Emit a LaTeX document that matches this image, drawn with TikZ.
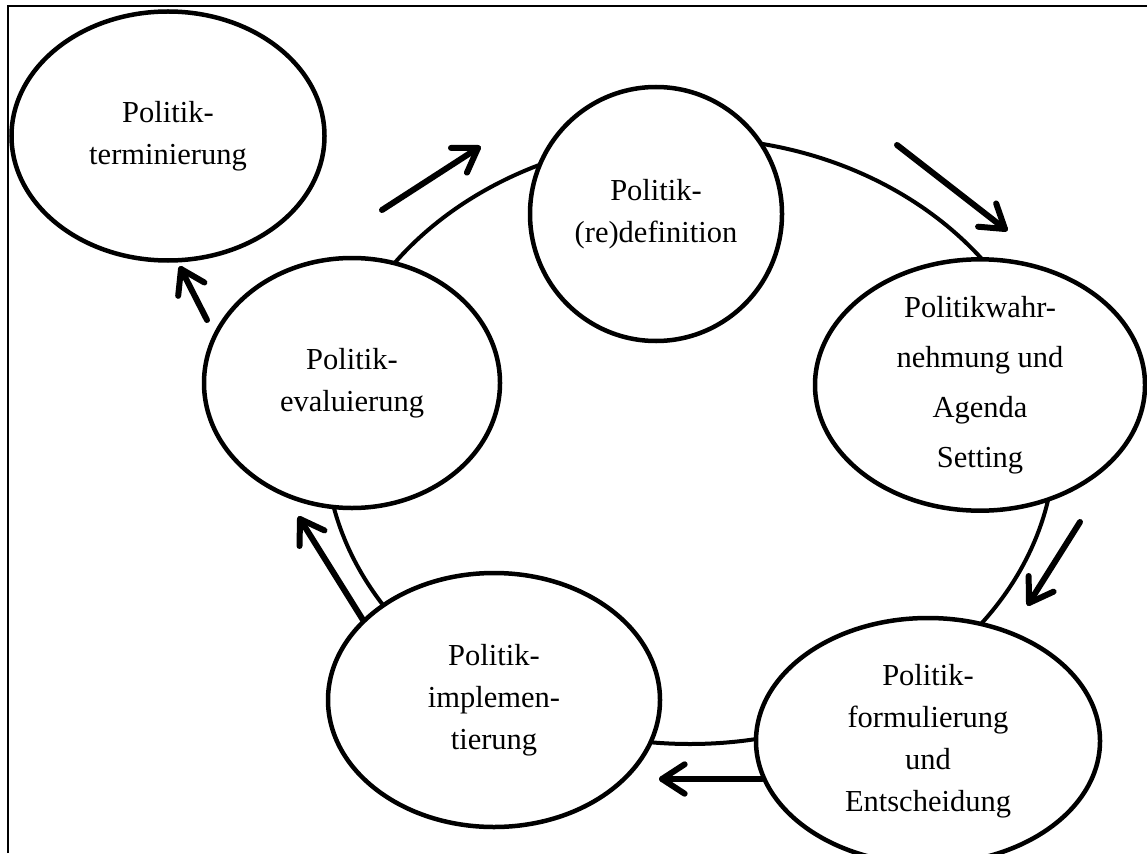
\documentclass[tikz,border=0pt]{standalone}
\usepackage{fontspec}
\setmainfont{Liberation Serif}
\usetikzlibrary{shapes.geometric,calc}
\newcommand\flowarr[2]{%
  \draw[flow] (#1) -- (#2);
  \draw[flow] ($(#2)!27pt!33:(#1)$) -- (#2) -- ($(#2)!27pt!-33:(#1)$);}
\begin{document}
\begin{tikzpicture}[x=1pt,y=-1pt,
  phase/.style={ellipse, draw, line width=4.5pt, fill=white, inner sep=0pt, align=center,
    font=\fontsize{30.5}{42}\selectfont},
  flow/.style={line width=6pt, line cap=round, line join=round},
  ringstyle/.style={ellipse, draw, line width=4pt, inner sep=0pt}]
\useasboundingbox (0,0) rectangle (1147,853);
\draw[line width=2pt] (8,853) -- (8,6) -- (1147,6);
\node[ringstyle, minimum width=730pt, minimum height=606pt] (cycle) at (690,441) {};
\node[phase, minimum width=313pt, minimum height=249pt] (term) at (168,136) {Politik-\\terminierung};
\node[phase, minimum width=252pt, minimum height=254pt] (redef) at (656,214) {Politik-\\(re)definition};
\node[phase, minimum width=330pt, minimum height=248pt, font=\fontsize{30.5}{50}\selectfont] (wahr) at (980,385) {Politikwahr-\\nehmung und\\Agenda\\Setting};
\node[phase, minimum width=344pt, minimum height=246pt] (form) at (928,741) {Politik-\\formulierung\\und\\Entscheidung};
\node[phase, minimum width=332pt, minimum height=254pt] (impl) at (494,700) {Politik-\\implemen-\\tierung};
\node[phase, minimum width=296pt, minimum height=250pt] (eval) at (352,383) {Politik-\\evaluierung};
\coordinate (a1s) at (382,210); \coordinate (a1e) at (478,148);
\coordinate (a2s) at (897,145); \coordinate (a2e) at (1005,229);
\coordinate (a3s) at (1080,522); \coordinate (a3e) at (1029,603);
\coordinate (a4s) at (762,779); \coordinate (a4e) at (662,779);
\coordinate (a5s) at (363,620); \coordinate (a5e) at (300,519);
\coordinate (a6s) at (207,320); \coordinate (a6e) at (181,269);
\flowarr{a1s}{a1e}
\flowarr{a2s}{a2e}
\flowarr{a3s}{a3e}
\flowarr{a4s}{a4e}
\flowarr{a5s}{a5e}
\flowarr{a6s}{a6e}
\end{tikzpicture}
\end{document}
